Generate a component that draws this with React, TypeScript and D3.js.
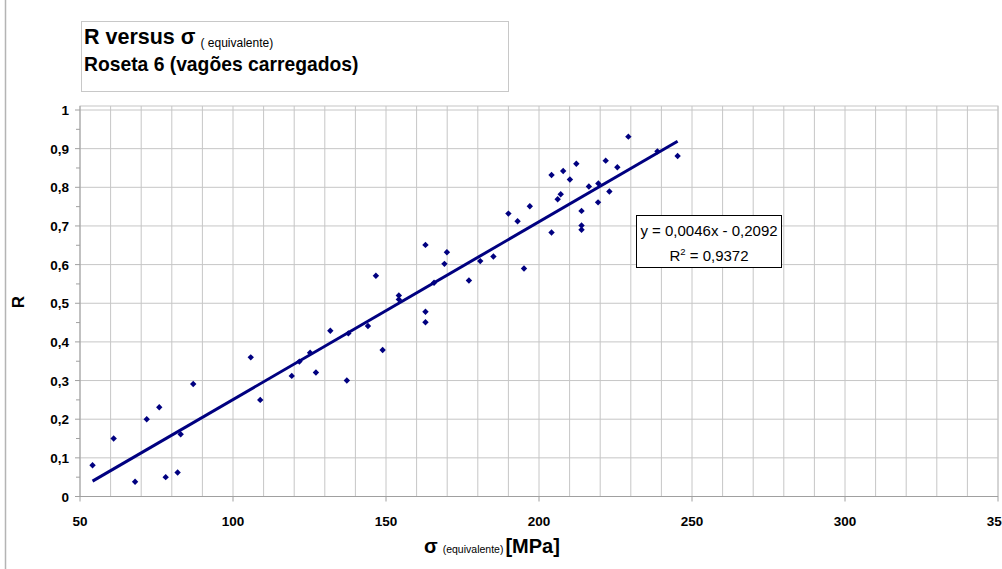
import React from "react";
import * as d3 from "d3";

// Data
const sigmaEq: number[] = [
  54.1, 61.0, 68.0, 71.8, 75.9, 78.0, 81.9, 82.9, 87.0, 105.8,
  108.9, 119.2, 121.7, 125.2, 127.1, 131.8, 137.2, 137.7, 144.1, 146.7,
  148.9, 154.2, 154.2, 162.9, 162.9, 162.9, 165.7, 169.1, 169.9, 177.1,
  180.8, 185.1, 190.0, 193.0, 195.1, 197.0, 204.1, 204.1, 206.1, 207.1,
  207.9, 210.1, 212.2, 213.9, 213.9, 213.9, 216.3, 219.4, 219.3, 221.8,
  223.0, 225.6, 229.2, 238.7, 245.3,
];
const rValues: number[] = [
  0.081, 0.150, 0.038, 0.200, 0.231, 0.050, 0.062, 0.161, 0.291, 0.360,
  0.250, 0.312, 0.349, 0.372, 0.321, 0.429, 0.300, 0.422, 0.441, 0.571,
  0.379, 0.520, 0.510, 0.651, 0.478, 0.451, 0.553, 0.602, 0.632, 0.559,
  0.609, 0.621, 0.732, 0.712, 0.590, 0.751, 0.832, 0.683, 0.769, 0.782,
  0.842, 0.820, 0.861, 0.739, 0.701, 0.690, 0.802, 0.810, 0.761, 0.869,
  0.789, 0.852, 0.931, 0.893, 0.881,
];
const trendSlope = 0.0046;
const trendIntercept = -0.2092;
const xTickValues: number[] = [50, 100, 150, 200, 250, 300, 350];
const xTickLabels: string[] = ["50", "100", "150", "200", "250", "300", "350"];
const yTickValues: number[] = [0, 0.1, 0.2, 0.3, 0.4, 0.5, 0.6, 0.7, 0.8, 0.9, 1];
const yTickLabels: string[] = ["0", "0,1", "0,2", "0,3", "0,4", "0,5", "0,6", "0,7", "0,8", "0,9", "1"];
const equationText = "y = 0,0046x - 0,2092";
const r2Value = "0,9372";

const FONT = "'Liberation Sans', Arial, sans-serif";
const NAVY = "#000080";
const GRID = "#c6c6c6";

export default function App() {
  const W = 1002;
  const H = 569;
  const x = d3.scaleLinear().domain([50, 350]).range([80, 998]);
  const y = d3.scaleLinear().domain([0, 1]).range([496.5, 110]);
  const plotTop = 106;

  const vGrid = d3.range(60, 351, 10);
  const hGrid = d3.range(0, 11).map((i) => i / 10);
  const minorY = d3.range(0, 10).map((i) => i / 10 + 0.05);

  const xMin = d3.min(sigmaEq) as number;
  const xMax = d3.max(sigmaEq) as number;
  const trend = d3.line<number>()
    .x((d) => x(d))
    .y((d) => y(trendSlope * d + trendIntercept));

  const m = 3.2;
  const diamond = `M0,${-m}L${m},0L0,${m}L${-m},0Z`;

  return (
    <svg
      width={W}
      height={H}
      style={{ position: "absolute", left: 0, top: 0, background: "#fff" }}
      fontFamily={FONT}
    >
      <rect x={0} y={0} width={W} height={H} fill="#fff" />
      {/* outer chart border (left edge visible) */}
      <line x1={5.5} x2={5.5} y1={0} y2={H} stroke="#b4b4b4" strokeWidth={1.5} />

      {/* plot area */}
      <rect x={x(50)} y={plotTop} width={x(350) - x(50)} height={y(0) - plotTop} fill="#fff" stroke={GRID} strokeWidth={1} />
      {vGrid.map((v) => (
        <line key={"v" + v} x1={x(v)} x2={x(v)} y1={plotTop} y2={y(0)} stroke={GRID} strokeWidth={1} />
      ))}
      {hGrid.map((v) => (
        <line key={"h" + v} x1={x(50)} x2={x(350)} y1={y(v)} y2={y(v)} stroke={GRID} strokeWidth={1} />
      ))}

      {/* axes */}
      <line x1={x(50)} x2={x(50)} y1={plotTop} y2={y(0)} stroke="#a0a0a0" strokeWidth={1} />
      <line x1={x(50)} x2={x(350)} y1={y(0)} y2={y(0)} stroke="#a0a0a0" strokeWidth={1} />
      {yTickValues.map((v) => (
        <line key={"yt" + v} x1={x(50) - 5} x2={x(50)} y1={y(v)} y2={y(v)} stroke="#a0a0a0" />
      ))}
      {minorY.map((v) => (
        <line key={"ym" + v} x1={x(50) - 4} x2={x(50)} y1={y(v)} y2={y(v)} stroke="#a0a0a0" />
      ))}
      {xTickValues.map((v) => (
        <line key={"xt" + v} x1={x(v)} x2={x(v)} y1={y(0)} y2={y(0) + 5} stroke="#a0a0a0" />
      ))}

      {/* tick labels */}
      {yTickValues.map((v, i) => (
        <text key={"yl" + v} x={x(50) - 11} y={y(v) + 5} textAnchor="end" fontSize={13.5} fontWeight="bold" fill="#000">
          {yTickLabels[i]}
        </text>
      ))}
      {xTickValues.map((v, i) => (
        <text key={"xl" + v} x={x(v)} y={526} textAnchor="middle" fontSize={13.5} fontWeight="bold" fill="#000">
          {xTickLabels[i]}
        </text>
      ))}

      {/* axis titles */}
      <text x={0} y={0} transform="translate(24,302) rotate(-90)" textAnchor="middle" fontSize={17} fontWeight="bold" fill="#000">
        R
      </text>
      <text x={424} y={553} fill="#000">
        <tspan fontSize={20} fontWeight="bold">σ</tspan>
        <tspan fontSize={10.5} dx={5}>(equivalente)</tspan>
        <tspan fontSize={20} fontWeight="bold" dx={2}>[MPa]</tspan>
      </text>

      {/* trend line */}
      <path d={trend([xMin, xMax]) as string} fill="none" stroke={NAVY} strokeWidth={3} />

      {/* data points */}
      {sigmaEq.map((s, i) => (
        <path key={"p" + i} d={diamond} transform={`translate(${x(s)},${y(rValues[i])})`} fill={NAVY} />
      ))}

      {/* equation label */}
      <rect x={636.5} y={215.5} width={145} height={52} fill="#fff" stroke="#000" strokeWidth={1} />
      <text x={709} y={236} textAnchor="middle" fontSize={15} fill="#000">
        {equationText}
      </text>
      <text x={709} y={261} textAnchor="middle" fontSize={15} fill="#000">
        R<tspan fontSize={9.5} dy={-6}>2</tspan>
        <tspan dy={6}> = {r2Value}</tspan>
      </text>

      {/* title box */}
      <rect x={81.5} y={21.5} width={427} height={70} fill="#fff" stroke="#c8c8c8" strokeWidth={1} />
      <text x={84} y={44} fill="#000">
        <tspan fontSize={21.5} fontWeight="bold">R versus σ</tspan>
        <tspan fontSize={12} dx={5} dy={3}>( equivalente)</tspan>
      </text>
      <text x={84} y={71} fontSize={19.3} fontWeight="bold" fill="#000">
        Roseta 6 (vagões carregados)
      </text>
    </svg>
  );
}
